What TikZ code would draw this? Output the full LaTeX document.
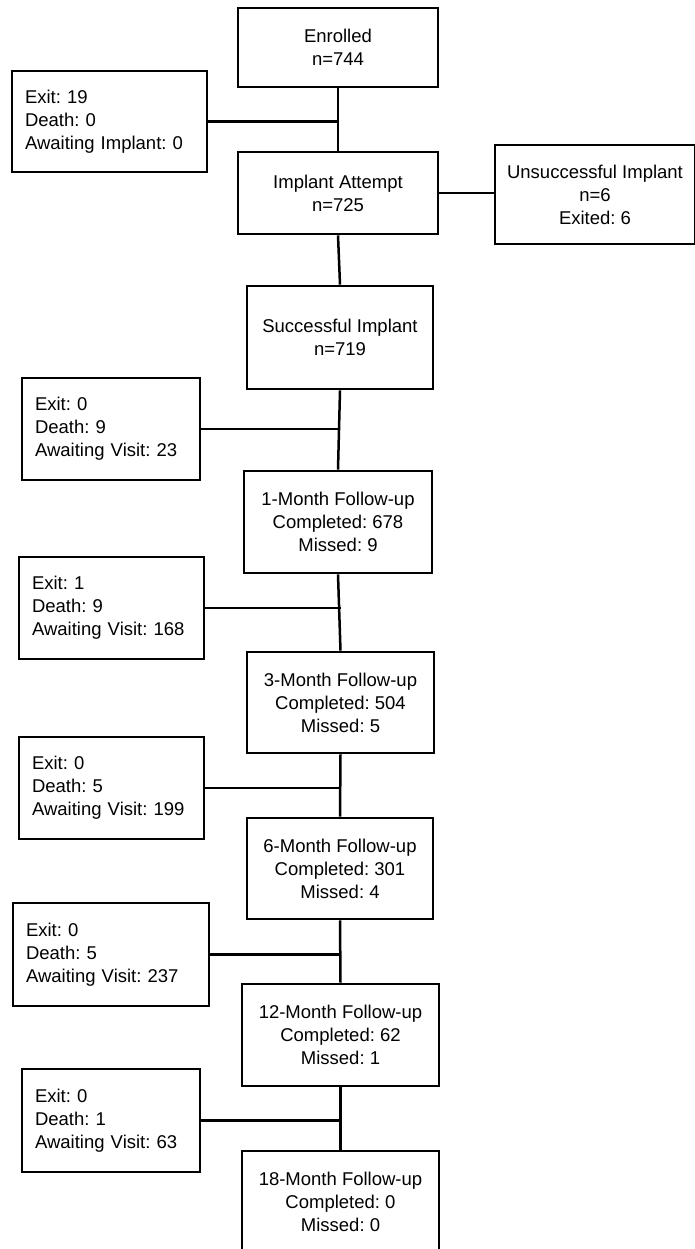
\documentclass[tikz,border=0pt]{standalone}
\usepackage{fontspec}
\setmainfont{Liberation Sans}
\begin{document}
\frenchspacing
\begin{tikzpicture}[x=1pt,y=-1pt,
  every node/.style={font=\fontsize{18.5}{23}\selectfont\frenchspacing},
  mainbox/.style={draw=black,line width=2.6pt,align=center,inner sep=0pt,minimum width=#1},
  sidebox/.style={draw=black,line width=2.6pt,align=left,inner xsep=13pt,inner ysep=0pt,text width=#1-26pt},
  link/.style={draw=black,line width=2.5pt}]
\fill[white] (0,0) rectangle (694,1249);
\useasboundingbox (0,0) rectangle (694,1249);

\node[mainbox=200pt,minimum height=79pt] (enr) at (338,47.5) {Enrolled\\n=744};
\node[sidebox=195pt,minimum height=101pt] (ex1) at (109.5,121.5) {Exit: 19\\Death: 0\\Awaiting Implant: 0};
\node[mainbox=200pt,minimum height=82pt] (att) at (338,193) {Implant Attempt\\n=725};
\node[mainbox=200pt,minimum height=99pt] (uns) at (595,194.5) {Unsuccessful Implant\\n=6\\Exited: 6};
\node[mainbox=186pt,minimum height=103pt] (succ) at (340,337.5) {Successful Implant\\n=719};
\node[sidebox=178pt,minimum height=102pt] (ex2) at (111,429) {Exit: 0\\Death: 9\\Awaiting Visit: 23};
\node[mainbox=188pt,minimum height=102pt] (m1) at (338,522) {1-Month Follow-up\\Completed: 678\\Missed: 9};
\node[sidebox=185pt,minimum height=102pt] (ex3) at (111.5,608) {Exit: 1\\Death: 9\\Awaiting Visit: 168};
\node[mainbox=187pt,minimum height=101pt] (m3) at (340.5,702.5) {3-Month Follow-up\\Completed: 504\\Missed: 5};
\node[sidebox=185pt,minimum height=102pt] (ex4) at (111.5,788) {Exit: 0\\Death: 5\\Awaiting Visit: 199};
\node[mainbox=186pt,minimum height=101pt] (m6) at (340,868.5) {6-Month Follow-up\\Completed: 301\\Missed: 4};
\node[sidebox=196pt,minimum height=103pt] (ex5) at (111,954.5) {Exit: 0\\Death: 5\\Awaiting Visit: 237};
\node[mainbox=197pt,minimum height=102pt] (m12) at (340.5,1035) {12-Month Follow-up\\Completed: 62\\Missed: 1};
\node[sidebox=178pt,minimum height=103pt] (ex6) at (111,1120.5) {Exit: 0\\Death: 1\\Awaiting Visit: 63};
\node[mainbox=197pt,minimum height=102pt] (m18) at (340.5,1202) {18-Month Follow-up\\Completed: 0\\Missed: 0};

\draw[link] (enr.south) -- (att.north);
\draw[link] (att.south) -- (succ.north);
\draw[link] (succ.south) -- (m1.north);
\draw[link] (m1.south) -- (m3.north);
\draw[link] (m3.south) -- (m6.north);
\draw[link] (m6.south) -- (m12.north);
\draw[link] (m12.south) -- (m18.north);

\draw[link] (att.east) -- (att.east -| uns.west);
\draw[link] (ex1.east) -- (ex1.east -| enr.south);
\draw[link] (ex2.east) -- (ex2.east -| m1.north);
\draw[link] (ex3.east) -- (ex3.east -| m3.north);
\draw[link] (ex4.east) -- (ex4.east -| m6.north);
\draw[link] (ex5.east) -- (ex5.east -| m12.north);
\draw[link] (ex6.east) -- (ex6.east -| m18.north);
\end{tikzpicture}
\end{document}
